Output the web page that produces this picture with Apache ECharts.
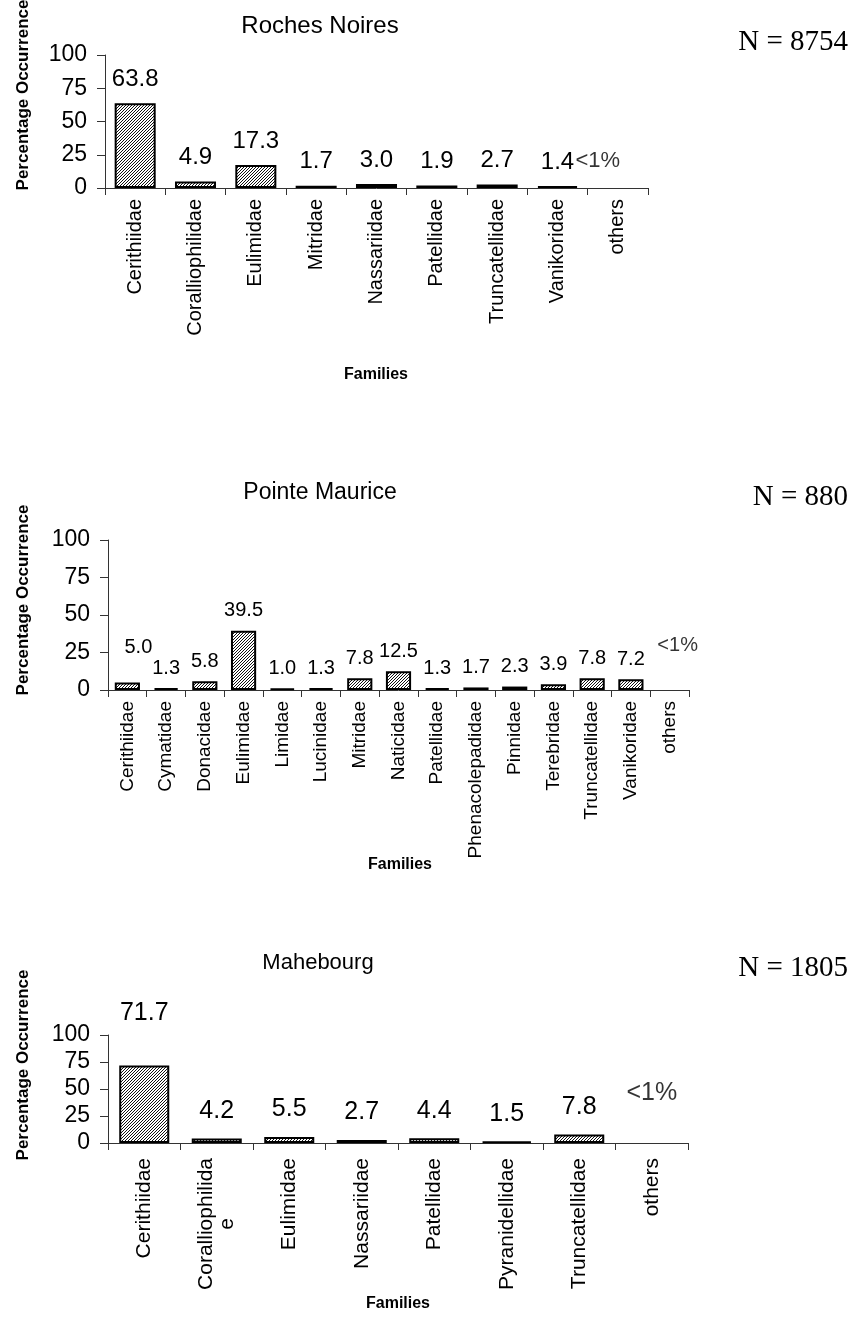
<!DOCTYPE html>
<html>
<head>
<meta charset="utf-8">
<script src="https://cdn.jsdelivr.net/npm/echarts@6/dist/echarts.min.js"></script>
<style>html,body{margin:0;padding:0;background:#fff}#c{width:853px;height:1324px}</style>
</head>
<body>
<div id="c"></div>
<script>
// ---------- data ----------
const yTicks = [0, 25, 50, 75, 100];
const othersNote = '<1%';
const yAxisTitle = 'Percentage Occurrence';
const xAxisTitle = 'Families';

const rnTitle = 'Roches Noires';
const rnN = 'N = 8754';
const rnCategories = ['Cerithiidae', 'Coralliophilidae', 'Eulimidae', 'Mitridae', 'Nassariidae', 'Patellidae', 'Truncatellidae', 'Vanikoridae', 'others'];
const rnValues = [63.8, 4.9, 17.3, 1.7, 3.0, 1.9, 2.7, 1.4, null];

const pmTitle = 'Pointe Maurice';
const pmN = 'N = 880';
const pmCategories = ['Cerithiidae', 'Cymatidae', 'Donacidae', 'Eulimidae', 'Limidae', 'Lucinidae', 'Mitridae', 'Naticidae', 'Patellidae', 'Phenacolepadidae', 'Pinnidae', 'Terebridae', 'Truncatellidae', 'Vanikoridae', 'others'];
const pmValues = [5.0, 1.3, 5.8, 39.5, 1.0, 1.3, 7.8, 12.5, 1.3, 1.7, 2.3, 3.9, 7.8, 7.2, null];

const mbTitle = 'Mahebourg';
const mbN = 'N = 1805';
const mbCategories = ['Cerithiidae', 'Coralliophilidae', 'Eulimidae', 'Nassariidae', 'Patellidae', 'Pyranidellidae', 'Truncatellidae', 'others'];
const mbValues = [71.7, 4.2, 5.5, 2.7, 4.4, 1.5, 7.8, null];

// ---------- styling / layout ----------
const SANS = 'Arial, "Liberation Sans", sans-serif';
const SERIF = '"Times New Roman", "Liberation Serif", serif';

function hatch() {
  const c = document.createElement('canvas');
  c.width = 3; c.height = 3;
  const g = c.getContext('2d');
  g.fillStyle = '#fff'; g.fillRect(0, 0, 3, 3);
  g.fillStyle = '#111';
  for (let i = 0; i < 3; i++) g.fillRect(i, 2 - i, 1, 1);
  return c;
}
const pattern = { image: hatch(), repeat: 'repeat' };

const panels = [
  { title: rnTitle, n: rnN, cats: rnCategories, vals: rnValues,
    grid: { left: 105, top: 55, width: 543, height: 133 }, gap: '32%',
    tickFont: 23, valFont: 24, catFont: 20, catMargin: 11, valDist: 12,
    noteFont: 22, noteOffset: [-20, -11], nudges: {},
    titlePos: [320, 26], titleFont: 24, nPos: [848, 42], yNamePos: [23, 95], xNamePos: [376, 375] },
  { title: pmTitle, n: pmN, cats: pmCategories, vals: pmValues,
    grid: { left: 108, top: 540, width: 581, height: 150 }, gap: '35%',
    tickFont: 23, valFont: 20, catFont: 19, catMargin: 11, valDist: 10,
    noteFont: 20, noteOffset: [8, -29], nudges: { 0: [11, -15] },
    titlePos: [320, 493], titleFont: 23, nPos: [848, 497], yNamePos: [23, 600], xNamePos: [400, 865] },
  { title: mbTitle, n: mbN, cats: mbCategories, vals: mbValues,
    grid: { left: 108, top: 1035, width: 580, height: 108 }, gap: '31%',
    tickFont: 23, valFont: 25, catFont: 21, catMargin: 15, valDist: 15,
    noteFont: 25, noteOffset: [0, -32], nudges: { 0: [0, -25] },
    titlePos: [318, 963], titleFont: 22, nPos: [848, 968], yNamePos: [23, 1065], xNamePos: [398, 1304] }
];

const option = {
  animation: false,
  backgroundColor: '#fff',
  grid: [], xAxis: [], yAxis: [], series: [], graphic: []
};

panels.forEach((p, i) => {
  option.grid.push(Object.assign({ containLabel: false, outerBoundsMode: 'none' }, p.grid));
  option.xAxis.push({
    type: 'category', gridIndex: i, data: p.cats, boundaryGap: true,
    axisLine: { show: true, lineStyle: { color: '#333', width: 1 } },
    axisTick: { show: true, length: 7, alignWithLabel: false, interval: 0, lineStyle: { color: '#333' } },
    axisLabel: {
      interval: 0, rotate: 90, margin: p.catMargin, color: '#000',
      fontFamily: SANS, fontSize: p.catFont, hideOverlap: false,
      formatter: (v) => (i === 2 && v === 'Coralliophilidae') ? '{a|Coralliophilida}\n{b|e}' : v,
      rich: {
        a: { fontFamily: SANS, fontSize: p.catFont, color: '#000' },
        b: { fontFamily: SANS, fontSize: p.catFont, color: '#000', align: 'center' }
      }
    },
    splitLine: { show: false }
  });
  option.yAxis.push({
    type: 'value', gridIndex: i,
    min: yTicks[0], max: yTicks[yTicks.length - 1], interval: yTicks[1] - yTicks[0],
    axisLine: { show: true, lineStyle: { color: '#333', width: 1 } },
    axisTick: { show: true, length: 8, inside: false, lineStyle: { color: '#333' } },
    axisLabel: { color: '#000', fontFamily: SANS, fontSize: p.tickFont, margin: 18 },
    splitLine: { show: false }
  });
  option.series.push({
    type: 'bar', xAxisIndex: i, yAxisIndex: i,
    barCategoryGap: p.gap,
    data: p.vals.map((v, k) => {
      const item = { value: v };
      if (p.nudges[k]) item.label = { offset: p.nudges[k] };
      return item;
    }),
    itemStyle: { color: pattern, borderColor: '#000', borderWidth: 2 },
    label: {
      show: true, position: 'top', distance: p.valDist, color: '#000',
      fontFamily: SANS, fontSize: p.valFont,
      formatter: (d) => (d.value == null ? '' : Number(d.value).toFixed(1))
    },
    emphasis: { disabled: true }
  });
  option.series.push({
    type: 'scatter', xAxisIndex: i, yAxisIndex: i,
    symbolSize: 1, itemStyle: { color: 'rgba(0,0,0,0)' },
    data: [[p.cats[p.cats.length - 1], 0]],
    label: {
      show: true, position: 'top', offset: p.noteOffset, color: '#000',
      fontFamily: SANS, fontSize: p.noteFont, formatter: () => othersNote
    },
    emphasis: { disabled: true }, silent: true
  });
  option.graphic.push(
    { type: 'text', x: p.titlePos[0], y: p.titlePos[1], silent: true,
      style: { text: p.title, font: p.titleFont + 'px ' + SANS, fill: '#000', textAlign: 'center', textVerticalAlign: 'middle' } },
    { type: 'text', x: p.nPos[0], y: p.nPos[1], silent: true,
      style: { text: p.n, font: '29px ' + SERIF, fill: '#000', textAlign: 'right', textVerticalAlign: 'middle' } },
    { type: 'text', x: p.yNamePos[0], y: p.yNamePos[1], rotation: Math.PI / 2, silent: true,
      style: { text: yAxisTitle, font: 'bold 17px ' + SANS, fill: '#000', textAlign: 'center', textVerticalAlign: 'middle' } },
    { type: 'text', x: p.xNamePos[0], y: p.xNamePos[1], silent: true,
      style: { text: xAxisTitle, font: 'bold 16px ' + SANS, fill: '#000', textAlign: 'center', textVerticalAlign: 'middle' } }
  );
});

const chart = echarts.init(document.getElementById('c'), null, { renderer: 'canvas', width: 853, height: 1324 });
chart.setOption(option);
</script>
</body>
</html>
